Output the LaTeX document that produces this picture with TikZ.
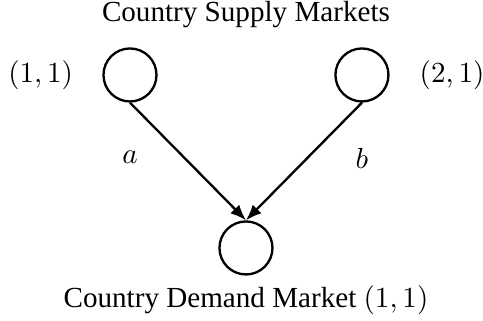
\documentclass[tikz,border=0pt]{standalone}
\usepackage[no-math]{fontspec}
\setmainfont{Liberation Serif}
\usetikzlibrary{arrows.meta, positioning}

\begin{document}
\begin{tikzpicture}[
  market/.style={draw, circle, line width=0.8pt, minimum size=0.64cm, inner sep=0pt},
  flow/.style={-{Latex[length=1.9mm, width=1.5mm]}, line width=0.8pt},
  tag/.style={inner sep=3.3pt}]

  \useasboundingbox (-2.969,-0.881) rectangle (2.861,2.993);

  \node[market] (dem) at (0,0) {};
  \node[market] (sup1) at (-1.40,2.088) {};
  \node[market] (sup2) at (1.40,2.088) {};

  \node[tag, left=0.23cm of sup1] (lab1) {$(1,1)$};
  \node[tag, right=0.24cm of sup2] (lab2) {$(2,1)$};
  \node (title) at (0,2.812) {Country Supply Markets};
  \node (dlab) at (0,-0.628) {Country Demand Market $(1,1)$};

  \node (la) at (-1.40,1.099) {$a$};
  \node (lb) at (1.40,1.087) {$b$};

  \draw[flow] (sup1.south) -- (dem.north);
  \draw[flow] (sup2.south) -- (dem.north);
\end{tikzpicture}
\end{document}
